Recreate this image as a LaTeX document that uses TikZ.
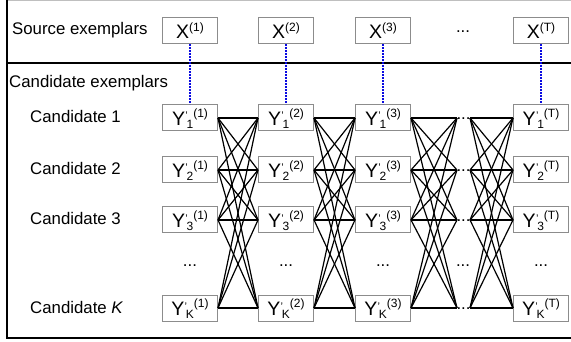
\documentclass[tikz,border=0pt]{standalone}
\usepackage{fontspec}
\setmainfont{Liberation Sans}
\definecolor{linkblue}{RGB}{10,10,225}
\newcommand{\lblfont}{\fontsize{16.8}{18}\selectfont}
\newcommand{\boxfont}{\fontsize{19.5}{20}\selectfont}
\newcommand{\smfont}{\fontsize{12}{12}\selectfont}
\newcommand{\Xlab}[1]{X\raisebox{7pt}{\smfont(#1)}}
\newcommand{\Ylab}[2]{Y\raisebox{5.5pt}{\fontsize{11}{11}\selectfont\kern0.3pt'}\kern-1.2pt\raisebox{-3.5pt}{\smfont #1}\raisebox{8pt}{\smfont(#2)}}
\begin{document}
\begin{tikzpicture}[x=1pt,y=-1pt,
  exbox/.style={draw=black!45,line width=1pt,fill=white,minimum width=55pt,minimum height=26pt,inner sep=0pt,text height=15pt,text depth=0pt,font=\boxfont},
  lbl/.style={anchor=base west,inner sep=0pt,font=\lblfont},
  dotsnode/.style={anchor=base,inner sep=0pt,font=\lblfont},
  edge/.style={line width=1.2pt,black},
  link/.style={draw=linkblue,line width=1.3pt,dash pattern=on 2pt off 1pt},
  frame/.style={line width=1.4pt,black}]
\useasboundingbox (0,0) rectangle (571,342);
% frame
\draw[black!25,line width=1pt] (7,0.5) -- (571,0.5);
\draw[frame] (7,0) -- (7,338) -- (571,338);
\draw[frame] (7,63) -- (571,63);
% labels
\node[lbl] (src) at (12,35) {Source exemplars};
\node[lbl] (cand) at (9,88) {Candidate exemplars};
\node[lbl] (c1) at (30,123) {Candidate 1};
\node[lbl] (c2) at (30,175) {Candidate 2};
\node[lbl] (c3) at (30,225) {Candidate 3};
\node[lbl] (cK) at (30,313) {Candidate \textit{K}};
% source boxes
\node[exbox] (X-1) at (190,31) {\Xlab{1}};
\node[exbox] (X-2) at (286,31) {\Xlab{2}};
\node[exbox] (X-3) at (383,31) {\Xlab{3}};
\node[exbox] (X-T) at (541,31) {\Xlab{T}};
\node[dotsnode] (xdots) at (463,32.5) {...};
% candidate boxes
\foreach \r/\yy in {1/118,2/170,3/220,K/308}{
  \node[exbox] (Y-\r-1) at (190,\yy) {\Ylab{\r}{1}};
  \node[exbox] (Y-\r-2) at (286,\yy) {\Ylab{\r}{2}};
  \node[exbox] (Y-\r-3) at (383,\yy) {\Ylab{\r}{3}};
  \node[exbox] (Y-\r-T) at (541,\yy) {\Ylab{\r}{T}};
  \coordinate (L-\r) at (457,\yy);
  \coordinate (R-\r) at (470,\yy);
  \node[dotsnode] (D-\r) at (463.5,\yy+1.5) {...};
}
% row of dots
\foreach \xx/\n in {190/1,286/2,383/3,463/4,541/5}{
  \node[dotsnode] (vd-\n) at (\xx,266.5) {...};
}
% edges
\foreach \a in {1,2,3,K}{
  \foreach \b in {1,2,3,K}{
    \draw[edge] (Y-\a-1.east) -- (Y-\b-2.west);
    \draw[edge] (Y-\a-2.east) -- (Y-\b-3.west);
    \draw[edge] (Y-\a-3.east) -- (L-\b);
    \draw[edge] (R-\a) -- (Y-\b-T.west);
  }
}
% links
\draw[link] (X-1.south) -- (Y-1-1.north);
\draw[link] (X-2.south) -- (Y-1-2.north);
\draw[link] (X-3.south) -- (Y-1-3.north);
\draw[link] (X-T.south) -- (Y-1-T.north);
\end{tikzpicture}
\end{document}
